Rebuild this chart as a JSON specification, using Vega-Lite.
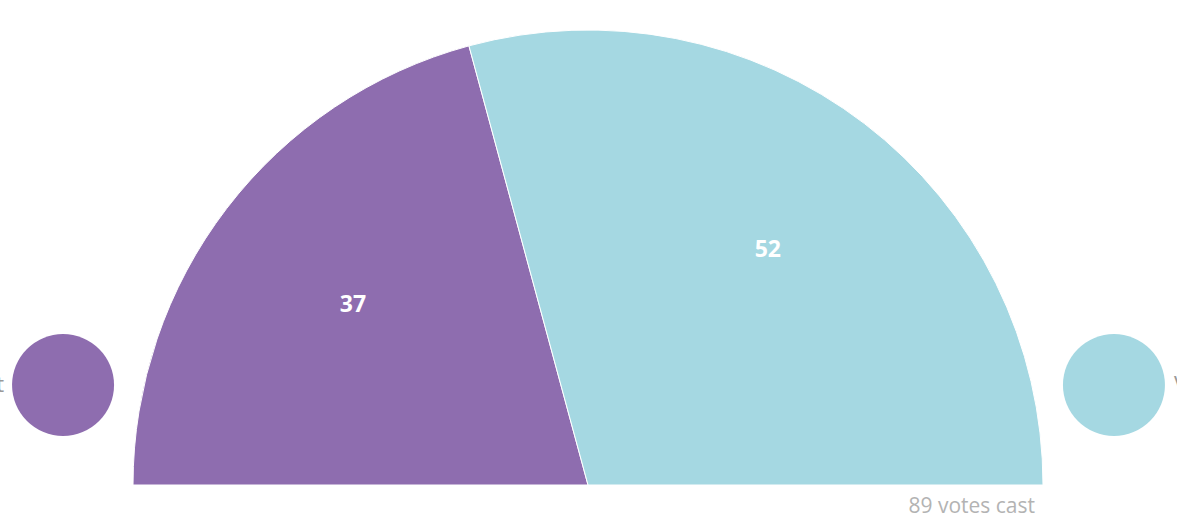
{
  "$schema": "https://vega.github.io/schema/vega-lite/v6.json",
  "width": 1177,
  "height": 531,
  "padding": 0,
  "autosize": "none",
  "background": "white",
  "view": {"stroke": null},
  "data": {
    "values": [
      {"party": "Against", "votes": 37, "rank": 1},
      {"party": "Votes for", "votes": 52, "rank": 2}
    ]
  },
  "layer": [
    {
      "mark": {"type": "arc", "outerRadius": 455, "x": 588, "y": 485, "stroke": "white", "strokeWidth": 1},
      "encoding": {
        "theta": {"field": "votes", "type": "quantitative", "stack": true, "scale": {"range": [-1.5708, 1.5708]}},
        "order": {"field": "rank", "type": "quantitative"},
        "color": {"field": "party", "type": "nominal", "scale": {"domain": ["Against", "Votes for"], "range": ["#8e6daf", "#a5d8e2"]}, "legend": null}
      }
    },
    {
      "mark": {"type": "text", "radius": 296, "x": 588, "y": 485, "fill": "white", "font": "Open Sans", "fontWeight": "bold", "fontSize": 23, "align": "center", "baseline": "middle"},
      "encoding": {
        "theta": {"field": "votes", "type": "quantitative", "stack": true},
        "order": {"field": "rank", "type": "quantitative"},
        "text": {"field": "votes", "type": "quantitative"}
      }
    },
    {
      "mark": {"type": "circle", "y": 385, "size": 10404, "opacity": 1},
      "encoding": {
        "x": {"field": "party", "type": "nominal", "scale": {"type": "point", "padding": 0.06}, "axis": null},
        "color": {"field": "party", "type": "nominal", "legend": null}
      }
    },
    {
      "transform": [{"filter": "datum.rank == 1"}],
      "mark": {"type": "text", "y": 385, "dx": -59, "align": "right", "baseline": "middle", "font": "Open Sans", "fontSize": 22, "fill": "#999999"},
      "encoding": {
        "x": {"field": "party", "type": "nominal", "axis": null},
        "text": {"field": "party", "type": "nominal"}
      }
    },
    {
      "transform": [{"filter": "datum.rank == 2"}],
      "mark": {"type": "text", "y": 385, "dx": 60, "align": "left", "baseline": "middle", "font": "Open Sans", "fontSize": 22, "fill": "#999999"},
      "encoding": {
        "x": {"field": "party", "type": "nominal", "axis": null},
        "text": {"field": "party", "type": "nominal"}
      }
    },
    {
      "data": {"values": [{"note": "89 votes cast"}]},
      "mark": {"type": "text", "x": 1035, "y": 507, "align": "right", "baseline": "middle", "font": "Open Sans", "fontSize": 21, "fill": "#b3b3b3"},
      "encoding": {
        "text": {"field": "note", "type": "nominal"}
      }
    }
  ]
}
